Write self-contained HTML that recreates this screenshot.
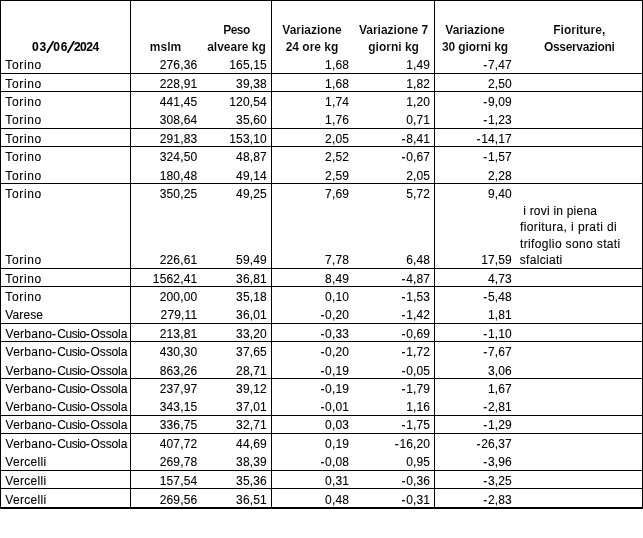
<!DOCTYPE html>
<html><head><meta charset="utf-8"><title>table</title>
<style>
html,body{margin:0;padding:0;background:#fff;}
body{width:643px;height:538px;position:relative;overflow:hidden;font-family:"Liberation Sans",sans-serif;color:#000;}
#w{position:absolute;left:0;top:0;width:643px;height:538px;will-change:transform;}
.l{position:absolute;background:#000;}
.t{position:absolute;white-space:pre;-webkit-text-stroke:0.1px #000;font-size:12.0px;line-height:16px;height:16px;}
.r{text-align:right;}
.n{letter-spacing:0.15px;}
.c{text-align:center;font-weight:bold;-webkit-text-stroke:0.1px #fff;}
.d{font-weight:bold;}
.h{letter-spacing:0.65px;}
</style></head><body><div id="w">

<div class="l" style="left:0;top:0;width:643px;height:1px"></div>
<div class="l" style="left:0;top:0;width:1px;height:509px"></div>
<div class="l" style="left:642px;top:0;width:1px;height:509px"></div>
<div class="l" style="left:0;top:507px;width:643px;height:2px"></div>
<div class="l" style="left:130px;top:0;width:1px;height:508px"></div>
<div class="l" style="left:271px;top:0;width:1px;height:508px"></div>
<div class="l" style="left:434px;top:0;width:1px;height:508px"></div>
<div class="l" style="left:0;top:73px;width:643px;height:1px"></div>
<div class="l" style="left:0;top:91px;width:643px;height:1px"></div>
<div class="l" style="left:0;top:128px;width:643px;height:1px"></div>
<div class="l" style="left:0;top:146px;width:643px;height:1px"></div>
<div class="l" style="left:0;top:183px;width:643px;height:1px"></div>
<div class="l" style="left:0;top:268px;width:643px;height:1px"></div>
<div class="l" style="left:0;top:286px;width:643px;height:1px"></div>
<div class="l" style="left:0;top:323px;width:643px;height:1px"></div>
<div class="l" style="left:0;top:341px;width:643px;height:1px"></div>
<div class="l" style="left:0;top:378px;width:643px;height:1px"></div>
<div class="l" style="left:0;top:415px;width:643px;height:1px"></div>
<div class="l" style="left:0;top:433px;width:643px;height:1px"></div>
<div class="l" style="left:0;top:470px;width:643px;height:1px"></div>
<div class="l" style="left:0;top:488px;width:643px;height:1px"></div>
<div class="t c" style="left:105.50px;width:120px;top:39.00px">mslm</div>
<div class="t c" style="left:176.50px;width:120px;top:22.00px"><span style="letter-spacing:-0.6px">Peso</span></div>
<div class="t c" style="left:176.50px;width:120px;top:39.00px">alveare kg</div>
<div class="t c" style="left:252.00px;width:120px;top:22.00px">Variazione</div>
<div class="t c" style="left:252.00px;width:120px;top:39.00px">24 ore kg</div>
<div class="t c" style="left:333.60px;width:120px;top:22.00px">Variazione 7</div>
<div class="t c" style="left:333.60px;width:120px;top:39.00px">giorni kg</div>
<div class="t c" style="left:415.00px;width:120px;top:22.00px">Variazione</div>
<div class="t c" style="left:415.00px;width:120px;top:39.00px"><span style="letter-spacing:-0.1px">30 giorni kg</span></div>
<div class="t c" style="left:519.30px;width:120px;top:22.00px">Fioriture,</div>
<div class="t c" style="left:519.30px;width:120px;top:39.00px"><span style="letter-spacing:-0.35px">Osservazioni</span></div>
<div class="t d" style="left:32.10px;top:39.00px;letter-spacing:0.80px">03</div>
<div class="t d" style="left:53.30px;top:39.00px;letter-spacing:0.70px">06</div>
<div class="t d" style="left:73.90px;top:39.00px;letter-spacing:-0.50px">2024</div>
<svg style="position:absolute;left:40px;top:38px" width="40" height="18" viewBox="40 38 40 18"><path d="M46.9 52.7 L53.5 41.1 M67.6 52.7 L74.2 41.1" stroke="#000" stroke-width="1.8" fill="none"/></svg>
<div class="t" style="left:5.30px;top:57.00px;letter-spacing:0.66px">Torino</div>
<div class="t r n" style="left:117.30px;width:80px;top:57.00px">276,36</div>
<div class="t r n" style="left:186.90px;width:80px;top:57.00px">165,15</div>
<div class="t r n" style="left:269.05px;width:80px;top:57.00px">1,68</div>
<div class="t r n" style="left:350.20px;width:80px;top:57.00px">1,49</div>
<div class="t r n" style="left:431.95px;width:80px;top:57.00px"><span class="h">-</span>7,47</div>
<div class="t" style="left:5.30px;top:76.00px;letter-spacing:0.66px">Torino</div>
<div class="t r n" style="left:117.30px;width:80px;top:76.00px">228,91</div>
<div class="t r n" style="left:186.90px;width:80px;top:76.00px">39,38</div>
<div class="t r n" style="left:269.05px;width:80px;top:76.00px">1,68</div>
<div class="t r n" style="left:350.20px;width:80px;top:76.00px">1,82</div>
<div class="t r n" style="left:431.95px;width:80px;top:76.00px">2,50</div>
<div class="t" style="left:5.30px;top:94.00px;letter-spacing:0.66px">Torino</div>
<div class="t r n" style="left:117.30px;width:80px;top:94.00px">441,45</div>
<div class="t r n" style="left:186.90px;width:80px;top:94.00px">120,54</div>
<div class="t r n" style="left:269.05px;width:80px;top:94.00px">1,74</div>
<div class="t r n" style="left:350.20px;width:80px;top:94.00px">1,20</div>
<div class="t r n" style="left:431.95px;width:80px;top:94.00px"><span class="h">-</span>9,09</div>
<div class="t" style="left:5.30px;top:112.00px;letter-spacing:0.66px">Torino</div>
<div class="t r n" style="left:117.30px;width:80px;top:112.00px">308,64</div>
<div class="t r n" style="left:186.90px;width:80px;top:112.00px">35,60</div>
<div class="t r n" style="left:269.05px;width:80px;top:112.00px">1,76</div>
<div class="t r n" style="left:350.20px;width:80px;top:112.00px">0,71</div>
<div class="t r n" style="left:431.95px;width:80px;top:112.00px"><span class="h">-</span>1,23</div>
<div class="t" style="left:5.30px;top:131.00px;letter-spacing:0.66px">Torino</div>
<div class="t r n" style="left:117.30px;width:80px;top:131.00px">291,83</div>
<div class="t r n" style="left:186.90px;width:80px;top:131.00px">153,10</div>
<div class="t r n" style="left:269.05px;width:80px;top:131.00px">2,05</div>
<div class="t r n" style="left:350.20px;width:80px;top:131.00px"><span class="h">-</span>8,41</div>
<div class="t r n" style="left:431.95px;width:80px;top:131.00px"><span class="h">-</span>14,17</div>
<div class="t" style="left:5.30px;top:149.00px;letter-spacing:0.66px">Torino</div>
<div class="t r n" style="left:117.30px;width:80px;top:149.00px">324,50</div>
<div class="t r n" style="left:186.90px;width:80px;top:149.00px">48,87</div>
<div class="t r n" style="left:269.05px;width:80px;top:149.00px">2,52</div>
<div class="t r n" style="left:350.20px;width:80px;top:149.00px"><span class="h">-</span>0,67</div>
<div class="t r n" style="left:431.95px;width:80px;top:149.00px"><span class="h">-</span>1,57</div>
<div class="t" style="left:5.30px;top:168.00px;letter-spacing:0.66px">Torino</div>
<div class="t r n" style="left:117.30px;width:80px;top:168.00px">180,48</div>
<div class="t r n" style="left:186.90px;width:80px;top:168.00px">49,14</div>
<div class="t r n" style="left:269.05px;width:80px;top:168.00px">2,59</div>
<div class="t r n" style="left:350.20px;width:80px;top:168.00px">2,05</div>
<div class="t r n" style="left:431.95px;width:80px;top:168.00px">2,28</div>
<div class="t" style="left:5.30px;top:186.00px;letter-spacing:0.66px">Torino</div>
<div class="t r n" style="left:117.30px;width:80px;top:186.00px">350,25</div>
<div class="t r n" style="left:186.90px;width:80px;top:186.00px">49,25</div>
<div class="t r n" style="left:269.05px;width:80px;top:186.00px">7,69</div>
<div class="t r n" style="left:350.20px;width:80px;top:186.00px">5,72</div>
<div class="t r n" style="left:431.95px;width:80px;top:186.00px">9,40</div>
<div class="t" style="left:5.30px;top:252.00px;letter-spacing:0.66px">Torino</div>
<div class="t r n" style="left:117.30px;width:80px;top:252.00px">226,61</div>
<div class="t r n" style="left:186.90px;width:80px;top:252.00px">59,49</div>
<div class="t r n" style="left:269.05px;width:80px;top:252.00px">7,78</div>
<div class="t r n" style="left:350.20px;width:80px;top:252.00px">6,48</div>
<div class="t r n" style="left:431.95px;width:80px;top:252.00px">17,59</div>
<div class="t" style="left:5.30px;top:271.00px;letter-spacing:0.66px">Torino</div>
<div class="t r n" style="left:117.30px;width:80px;top:271.00px">1562,41</div>
<div class="t r n" style="left:186.90px;width:80px;top:271.00px">36,81</div>
<div class="t r n" style="left:269.05px;width:80px;top:271.00px">8,49</div>
<div class="t r n" style="left:350.20px;width:80px;top:271.00px"><span class="h">-</span>4,87</div>
<div class="t r n" style="left:431.95px;width:80px;top:271.00px">4,73</div>
<div class="t" style="left:5.30px;top:289.00px;letter-spacing:0.66px">Torino</div>
<div class="t r n" style="left:117.30px;width:80px;top:289.00px">200,00</div>
<div class="t r n" style="left:186.90px;width:80px;top:289.00px">35,18</div>
<div class="t r n" style="left:269.05px;width:80px;top:289.00px">0,10</div>
<div class="t r n" style="left:350.20px;width:80px;top:289.00px"><span class="h">-</span>1,53</div>
<div class="t r n" style="left:431.95px;width:80px;top:289.00px"><span class="h">-</span>5,48</div>
<div class="t" style="left:5.30px;top:307.00px;letter-spacing:0.10px">Varese</div>
<div class="t r n" style="left:117.30px;width:80px;top:307.00px">279,11</div>
<div class="t r n" style="left:186.90px;width:80px;top:307.00px">36,01</div>
<div class="t r n" style="left:269.05px;width:80px;top:307.00px"><span class="h">-</span>0,20</div>
<div class="t r n" style="left:350.20px;width:80px;top:307.00px"><span class="h">-</span>1,42</div>
<div class="t r n" style="left:431.95px;width:80px;top:307.00px">1,81</div>
<div class="t" style="left:5.60px;top:326.00px;letter-spacing:0.25px">Verbano-</div>
<div class="t" style="left:57.20px;top:326.00px;letter-spacing:-0.40px">Cusio-</div>
<div class="t" style="left:90.60px;top:326.00px;letter-spacing:-0.12px">Ossola</div>
<div class="t r n" style="left:117.30px;width:80px;top:326.00px">213,81</div>
<div class="t r n" style="left:186.90px;width:80px;top:326.00px">33,20</div>
<div class="t r n" style="left:269.05px;width:80px;top:326.00px"><span class="h">-</span>0,33</div>
<div class="t r n" style="left:350.20px;width:80px;top:326.00px"><span class="h">-</span>0,69</div>
<div class="t r n" style="left:431.95px;width:80px;top:326.00px"><span class="h">-</span>1,10</div>
<div class="t" style="left:5.60px;top:344.00px;letter-spacing:0.25px">Verbano-</div>
<div class="t" style="left:57.20px;top:344.00px;letter-spacing:-0.40px">Cusio-</div>
<div class="t" style="left:90.60px;top:344.00px;letter-spacing:-0.12px">Ossola</div>
<div class="t r n" style="left:117.30px;width:80px;top:344.00px">430,30</div>
<div class="t r n" style="left:186.90px;width:80px;top:344.00px">37,65</div>
<div class="t r n" style="left:269.05px;width:80px;top:344.00px"><span class="h">-</span>0,20</div>
<div class="t r n" style="left:350.20px;width:80px;top:344.00px"><span class="h">-</span>1,72</div>
<div class="t r n" style="left:431.95px;width:80px;top:344.00px"><span class="h">-</span>7,67</div>
<div class="t" style="left:5.60px;top:363.00px;letter-spacing:0.25px">Verbano-</div>
<div class="t" style="left:57.20px;top:363.00px;letter-spacing:-0.40px">Cusio-</div>
<div class="t" style="left:90.60px;top:363.00px;letter-spacing:-0.12px">Ossola</div>
<div class="t r n" style="left:117.30px;width:80px;top:363.00px">863,26</div>
<div class="t r n" style="left:186.90px;width:80px;top:363.00px">28,71</div>
<div class="t r n" style="left:269.05px;width:80px;top:363.00px"><span class="h">-</span>0,19</div>
<div class="t r n" style="left:350.20px;width:80px;top:363.00px"><span class="h">-</span>0,05</div>
<div class="t r n" style="left:431.95px;width:80px;top:363.00px">3,06</div>
<div class="t" style="left:5.60px;top:381.00px;letter-spacing:0.25px">Verbano-</div>
<div class="t" style="left:57.20px;top:381.00px;letter-spacing:-0.40px">Cusio-</div>
<div class="t" style="left:90.60px;top:381.00px;letter-spacing:-0.12px">Ossola</div>
<div class="t r n" style="left:117.30px;width:80px;top:381.00px">237,97</div>
<div class="t r n" style="left:186.90px;width:80px;top:381.00px">39,12</div>
<div class="t r n" style="left:269.05px;width:80px;top:381.00px"><span class="h">-</span>0,19</div>
<div class="t r n" style="left:350.20px;width:80px;top:381.00px"><span class="h">-</span>1,79</div>
<div class="t r n" style="left:431.95px;width:80px;top:381.00px">1,67</div>
<div class="t" style="left:5.60px;top:399.00px;letter-spacing:0.25px">Verbano-</div>
<div class="t" style="left:57.20px;top:399.00px;letter-spacing:-0.40px">Cusio-</div>
<div class="t" style="left:90.60px;top:399.00px;letter-spacing:-0.12px">Ossola</div>
<div class="t r n" style="left:117.30px;width:80px;top:399.00px">343,15</div>
<div class="t r n" style="left:186.90px;width:80px;top:399.00px">37,01</div>
<div class="t r n" style="left:269.05px;width:80px;top:399.00px"><span class="h">-</span>0,01</div>
<div class="t r n" style="left:350.20px;width:80px;top:399.00px">1,16</div>
<div class="t r n" style="left:431.95px;width:80px;top:399.00px"><span class="h">-</span>2,81</div>
<div class="t" style="left:5.60px;top:417.00px;letter-spacing:0.25px">Verbano-</div>
<div class="t" style="left:57.20px;top:417.00px;letter-spacing:-0.40px">Cusio-</div>
<div class="t" style="left:90.60px;top:417.00px;letter-spacing:-0.12px">Ossola</div>
<div class="t r n" style="left:117.30px;width:80px;top:417.00px">336,75</div>
<div class="t r n" style="left:186.90px;width:80px;top:417.00px">32,71</div>
<div class="t r n" style="left:269.05px;width:80px;top:417.00px">0,03</div>
<div class="t r n" style="left:350.20px;width:80px;top:417.00px"><span class="h">-</span>1,75</div>
<div class="t r n" style="left:431.95px;width:80px;top:417.00px"><span class="h">-</span>1,29</div>
<div class="t" style="left:5.60px;top:436.00px;letter-spacing:0.25px">Verbano-</div>
<div class="t" style="left:57.20px;top:436.00px;letter-spacing:-0.40px">Cusio-</div>
<div class="t" style="left:90.60px;top:436.00px;letter-spacing:-0.12px">Ossola</div>
<div class="t r n" style="left:117.30px;width:80px;top:436.00px">407,72</div>
<div class="t r n" style="left:186.90px;width:80px;top:436.00px">44,69</div>
<div class="t r n" style="left:269.05px;width:80px;top:436.00px">0,19</div>
<div class="t r n" style="left:350.20px;width:80px;top:436.00px"><span class="h">-</span>16,20</div>
<div class="t r n" style="left:431.95px;width:80px;top:436.00px"><span class="h">-</span>26,37</div>
<div class="t" style="left:5.30px;top:454.00px;letter-spacing:0.30px">Vercelli</div>
<div class="t r n" style="left:117.30px;width:80px;top:454.00px">269,78</div>
<div class="t r n" style="left:186.90px;width:80px;top:454.00px">38,39</div>
<div class="t r n" style="left:269.05px;width:80px;top:454.00px"><span class="h">-</span>0,08</div>
<div class="t r n" style="left:350.20px;width:80px;top:454.00px">0,95</div>
<div class="t r n" style="left:431.95px;width:80px;top:454.00px"><span class="h">-</span>3,96</div>
<div class="t" style="left:5.30px;top:473.00px;letter-spacing:0.30px">Vercelli</div>
<div class="t r n" style="left:117.30px;width:80px;top:473.00px">157,54</div>
<div class="t r n" style="left:186.90px;width:80px;top:473.00px">35,36</div>
<div class="t r n" style="left:269.05px;width:80px;top:473.00px">0,31</div>
<div class="t r n" style="left:350.20px;width:80px;top:473.00px"><span class="h">-</span>0,36</div>
<div class="t r n" style="left:431.95px;width:80px;top:473.00px"><span class="h">-</span>3,25</div>
<div class="t" style="left:5.30px;top:492.00px;letter-spacing:0.30px">Vercelli</div>
<div class="t r n" style="left:117.30px;width:80px;top:492.00px">269,56</div>
<div class="t r n" style="left:186.90px;width:80px;top:492.00px">36,51</div>
<div class="t r n" style="left:269.05px;width:80px;top:492.00px">0,48</div>
<div class="t r n" style="left:350.20px;width:80px;top:492.00px"><span class="h">-</span>0,31</div>
<div class="t r n" style="left:431.95px;width:80px;top:492.00px"><span class="h">-</span>2,83</div>
<div class="t" style="left:523.20px;top:203.00px;letter-spacing:0.22px">i rovi in piena</div>
<div class="t" style="left:520.00px;top:219.00px;letter-spacing:0.40px">fioritura, i prati di</div>
<div class="t" style="left:520.00px;top:236.00px;letter-spacing:0.36px">trifoglio sono stati</div>
<div class="t" style="left:519.80px;top:252.00px;letter-spacing:0.30px">sfalciati</div>
</div></body></html>
